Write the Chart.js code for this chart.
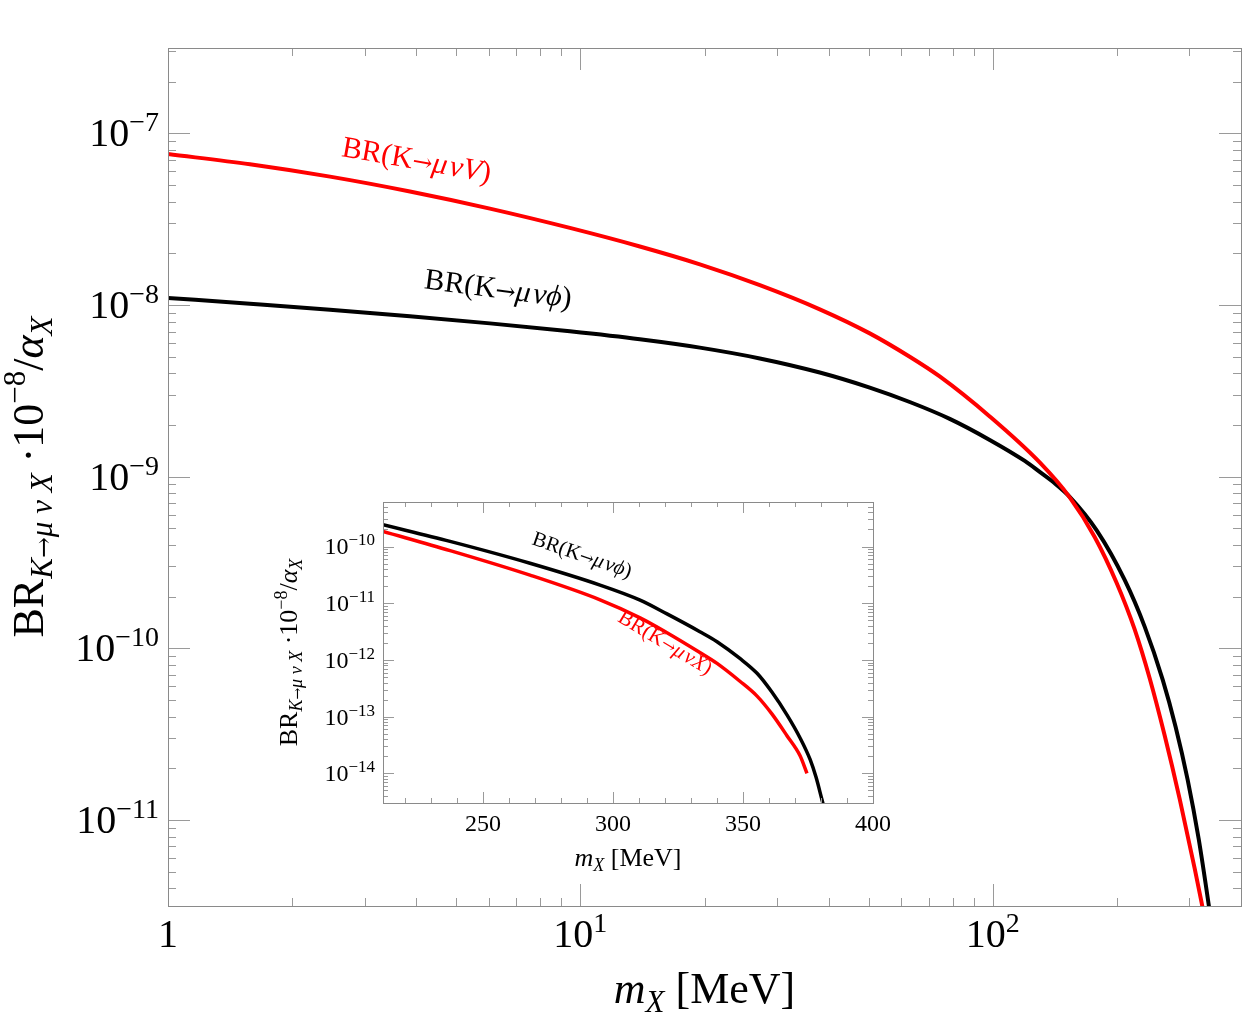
<!DOCTYPE html>
<html>
<head>
<meta charset="utf-8">
<script src="https://cdn.jsdelivr.net/npm/chart.js@4.4.0/dist/chart.umd.min.js"></script>
<style>
  html, body { margin: 0; padding: 0; background: #fff; }
  #wrap { position: relative; width: 1250px; height: 1019px; }
  #main { position: absolute; left: 0; top: 0; }
  #inset { position: absolute; left: 270px; top: 495px; }
</style>
</head>
<body>
<div id="wrap">
  <canvas id="main" width="1250" height="1019"></canvas>
  <canvas id="inset" width="620" height="385"></canvas>
</div>
<script>
// main panel, m_X in MeV
var massV   = [1, 1.58, 2.471, 3.861, 6.034, 9.431, 13.94, 19.49, 27.24, 38.07, 50.32, 62.91, 74.37, 98.34, 130, 153.7, 176.7, 199.8, 220.9, 240.3, 261.2, 284, 308.9, 321.2, 335.8];
var brV     = [7.57e-8, 6.60e-8, 5.59e-8, 4.58e-8, 3.64e-8, 2.81e-8, 2.19e-8, 1.724e-8, 1.304e-8, 9.43e-9, 6.83e-9, 4.99e-9, 3.83e-9, 2.24e-9, 1.209e-9, 7.57e-10, 4.45e-10, 2.40e-10, 1.287e-10, 6.66e-11, 3.10e-11, 1.325e-11, 5.20e-12, 3.27e-12, 1.89e-12];
var massPhi = [1, 1.58, 2.471, 3.861, 6.034, 9.431, 13.94, 19.49, 27.24, 38.07, 50.32, 62.91, 78.66, 98.34, 119.6, 130, 141.3, 153.7, 178.7, 208.9, 233.7, 258.4, 277.7, 297, 315.8, 334, 345.3];
var brPhi   = [1.099e-8, 1.016e-8, 9.38e-9, 8.59e-9, 7.81e-9, 7.02e-9, 6.31e-9, 5.64e-9, 4.88e-9, 4.04e-9, 3.30e-9, 2.72e-9, 2.17e-9, 1.636e-9, 1.234e-9, 1.065e-9, 9.15e-10, 7.62e-10, 4.86e-10, 2.50e-10, 1.332e-10, 6.54e-11, 3.48e-11, 1.712e-11, 7.76e-12, 3.20e-12, 1.80e-12];

// inset panel
var insetMassPhi = [211.5, 237.3, 268.05, 295, 310.4, 320.75, 333.4, 340, 348.8, 355.4, 361.1, 366.9, 371.9, 375.8, 378.1, 380.4, 381.9];
var insetBrPhi   = [2.42e-10, 1.232e-10, 5.07e-11, 2.09e-11, 1.135e-11, 6.49e-12, 3.15e-12, 2.10e-12, 1.062e-12, 5.81e-13, 2.71e-13, 1.073e-13, 4.25e-14, 1.756e-14, 8.51e-15, 3.38e-15, 1.85e-15];
var insetMassX   = [211.5, 237.3, 268.05, 295, 310.4, 320.75, 333.4, 340, 348.8, 355.4, 361.1, 366.9, 371.9, 374.6];
var insetBrX     = [1.85e-10, 8.48e-11, 3.13e-11, 1.149e-11, 5.53e-12, 3.02e-12, 1.352e-12, 8.69e-13, 4.21e-13, 2.30e-13, 1.117e-13, 4.61e-14, 2.06e-14, 1.00e-14];

// ticks and labels
var mainXTicks  = [1, 10, 100];
var mainXLabels = [['1', ''], ['10', '1'], ['10', '2']];
var mainYTicks  = [1e-7, 1e-8, 1e-9, 1e-10, 1e-11];
var mainYLabels = [['10', '\u22127'], ['10', '\u22128'], ['10', '\u22129'], ['10', '\u221210'], ['10', '\u221211']];
var insetXTicks  = [250, 300, 350, 400];
var insetXLabels = [['250', ''], ['300', ''], ['350', ''], ['400', '']];
var insetYTicks  = [1e-10, 1e-11, 1e-12, 1e-13, 1e-14];
var insetYLabels = [['10', '\u221210'], ['10', '\u221211'], ['10', '\u221212'], ['10', '\u221213'], ['10', '\u221214']];

var SERIF = '"Liberation Serif", "Times New Roman", serif';
var ARROW = '"DejaVu Serif", serif';

function pts(xs, ys) {
  return xs.map(function (x, i) { return { x: x, y: ys[i] }; });
}

function font(size, italic, fam) {
  return (italic ? 'italic ' : '') + size + 'px ' + (fam || SERIF);
}

// parts: [text, size, italic, dy, family]
function drawRich(ctx, parts, x, y, align, angle, color) {
  ctx.save();
  ctx.translate(x, y);
  if (angle) ctx.rotate(angle * Math.PI / 180);
  var w = 0;
  parts.forEach(function (p) {
    ctx.font = font(p[1], p[2], p[4]);
    p.w = ctx.measureText(p[0]).width;
    w += p.w;
  });
  var cx = align === 'right' ? -w : (align === 'center' ? -w / 2 : 0);
  ctx.fillStyle = color || '#000';
  ctx.textBaseline = 'alphabetic';
  parts.forEach(function (p) {
    ctx.font = font(p[1], p[2], p[4]);
    ctx.fillText(p[0], cx, p[3] || 0);
    cx += p.w;
  });
  ctx.restore();
}

function logMinors(min, max) {
  var out = [];
  for (var n = Math.floor(Math.log10(min)); n <= Math.ceil(Math.log10(max)); n++) {
    for (var k = 2; k <= 9; k++) {
      var v = k * Math.pow(10, n);
      if (v > min && v < max) out.push(v);
    }
  }
  return out;
}

var framePlugin = {
  id: 'frame',
  afterDraw: function (chart, args, o) {
    var ctx = chart.ctx, a = chart.chartArea;
    var xs = chart.scales.x, ys = chart.scales.y;
    ctx.save();
    ctx.strokeStyle = '#9a9a9a';
    ctx.lineWidth = 1;
    function tx(v, len) {
      var p = Math.round(xs.getPixelForValue(v)) + 0.5;
      ctx.beginPath();
      ctx.moveTo(p, a.bottom); ctx.lineTo(p, a.bottom - len);
      ctx.moveTo(p, a.top); ctx.lineTo(p, a.top + len);
      ctx.stroke();
    }
    function ty(v, len) {
      var p = Math.round(ys.getPixelForValue(v)) + 0.5;
      ctx.beginPath();
      ctx.moveTo(a.left, p); ctx.lineTo(a.left + len, p);
      ctx.moveTo(a.right, p); ctx.lineTo(a.right - len, p);
      ctx.stroke();
    }
    o.xMinor.forEach(function (v) { tx(v, o.minorLen); });
    o.xTicks.forEach(function (v) { tx(v, o.majorLen); });
    o.yMinor.forEach(function (v) { ty(v, o.minorLen); });
    o.yTicks.forEach(function (v) { ty(v, o.majorLen); });
    ctx.strokeStyle = '#8a8a8a';
    ctx.strokeRect(Math.round(a.left) + 0.5, Math.round(a.top) + 0.5,
      Math.round(a.right - a.left), Math.round(a.bottom - a.top));
    ctx.restore();

    var F = o.fontSize, E = Math.round(F * 0.7), R = Math.round(F * 0.37);
    o.xTicks.forEach(function (v, i) {
      var l = o.xLabels[i];
      drawRich(ctx, [[l[0], F], [l[1], E, false, -R]], xs.getPixelForValue(v), a.bottom + o.xLabelGap, 'center');
    });
    o.yTicks.forEach(function (v, i) {
      var l = o.yLabels[i];
      drawRich(ctx, [[l[0], F], [l[1], E, false, -R]], a.left - o.yLabelGap, ys.getPixelForValue(v) + F * 0.33, 'right');
    });

    // axis titles
    var T = o.titleSize, S = Math.round(T * 0.7), sub = Math.round(T * 0.2), sup = Math.round(T * 0.4);
    drawRich(ctx, [['m', T, true], ['X', S, true, sub], [' [MeV]', T]],
      (a.left + a.right) / 2, a.bottom + o.xTitleGap, 'center');
    drawRich(ctx, [['BR', T], ['K', S, true, sub], ['\u2192', Math.round(S * 0.8), false, sub, ARROW],
      ['\u03bc \u03bd X', S, true, sub], [' \u00b710', T], ['\u22128', S, false, -sup],
      ['/', T], ['\u03b1', T, true], ['X', S, true, sub]],
      a.left - o.yTitleGap, (a.top + a.bottom) / 2, 'center', -90);

    o.notes.forEach(function (n) {
      drawRich(ctx, n.parts, a.left + n.dx, a.top + n.dy, 'center', n.angle, n.color);
    });
  }
};

function noteParts(size, last) {
  return [['BR(K', size], ['\u2192', Math.round(size * 0.8), false, 0, ARROW],
    ['\u03bc\u200a\u03bd' + last, size, true], [')', size]];
}

function makeChart(id, sets, xType, xMin, xMax, yMin, yMax, pad, frame) {
  return new Chart(document.getElementById(id).getContext('2d'), {
    type: 'line',
    data: { datasets: sets },
    options: {
      responsive: false,
      animation: false,
      events: [],
      layout: { padding: pad },
      elements: { point: { radius: 0 }, line: { cubicInterpolationMode: 'monotone' } },
      plugins: { legend: { display: false }, tooltip: { enabled: false }, frame: frame },
      scales: {
        x: { type: xType, min: xMin, max: xMax, display: false },
        y: { type: 'logarithmic', min: yMin, max: yMax, display: false }
      }
    },
    plugins: [framePlugin]
  });
}

makeChart('main', [
  { data: pts(massV, brV), borderColor: '#ff0000', borderWidth: 4 },
  { data: pts(massPhi, brPhi), borderColor: '#000000', borderWidth: 4 }
], 'logarithmic', 1, 400, 3.15e-12, 3.14e-7,
  { left: 168, right: 9, top: 48, bottom: 113 },
  {
    xTicks: mainXTicks, xLabels: mainXLabels, xMinor: logMinors(1, 400),
    yTicks: mainYTicks, yLabels: mainYLabels, yMinor: logMinors(3.15e-12, 3.14e-7),
    majorLen: 22, minorLen: 8, fontSize: 40, xLabelGap: 41, yLabelGap: 9,
    titleSize: 44, xTitleGap: 97, yTitleGap: 125,
    notes: [
      { parts: noteParts(30, 'V'), dx: 247, dy: 121, angle: 10, color: '#ff0000' },
      { parts: noteParts(30, '\u03d5'), dx: 329, dy: 250, angle: 7.5, color: '#000000' }
    ]
  });

makeChart('inset', [
  { data: pts(insetMassPhi, insetBrPhi), borderColor: '#000000', borderWidth: 3.5 },
  { data: pts(insetMassX, insetBrX), borderColor: '#ff0000', borderWidth: 3.5 }
], 'linear', 211.5, 400, 3.37e-15, 6.1e-10,
  { left: 113, right: 17, top: 7, bottom: 77 },
  {
    xTicks: insetXTicks, xLabels: insetXLabels, xMinor: [220, 230, 240, 260, 270, 280, 290, 310, 320, 330, 340, 360, 370, 380, 390],
    yTicks: insetYTicks, yLabels: insetYLabels, yMinor: logMinors(3.37e-15, 6.1e-10),
    majorLen: 11, minorLen: 5, fontSize: 24, xLabelGap: 28, yLabelGap: 8,
    titleSize: 26, xTitleGap: 63, yTitleGap: 86,
    notes: [
      { parts: noteParts(21, '\u03d5'), dx: 197, dy: 59, angle: 19, color: '#000000' },
      { parts: noteParts(21, 'X'), dx: 279, dy: 146, angle: 31, color: '#ff0000' }
    ]
  });
</script>
</body>
</html>
